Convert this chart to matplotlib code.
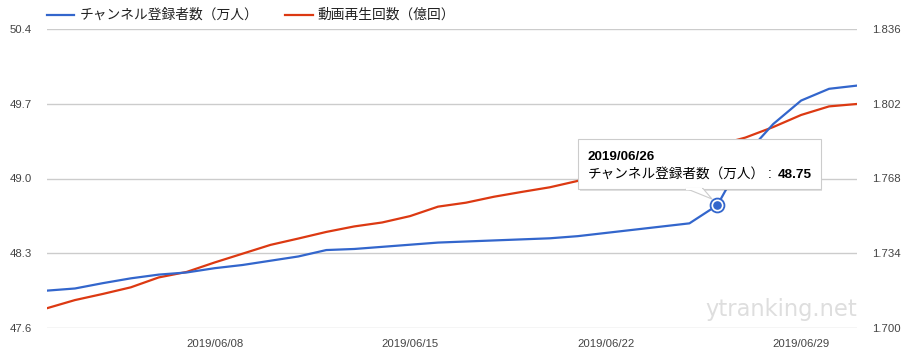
import matplotlib
matplotlib.use("Agg")
import matplotlib.pyplot as plt
import matplotlib.dates as mdates
from matplotlib.patches import Rectangle, Polygon
import pandas as pd

# data (2019/06/02 .. 2019/07/01)
dates = pd.date_range("2019-06-02", "2019-07-01", freq="D")
subscribers = [47.95, 47.97, 48.02, 48.065, 48.10, 48.12, 48.16, 48.19, 48.23, 48.27,
               48.33, 48.34, 48.36, 48.38, 48.40, 48.41, 48.42, 48.43, 48.44, 48.46,
               48.49, 48.52, 48.55, 48.58, 48.75, 49.22, 49.51, 49.73, 49.84, 49.87]
views = [1.7090, 1.7127, 1.7155, 1.7185, 1.7230, 1.7255, 1.7298, 1.7338, 1.7378, 1.7407,
         1.7437, 1.7462, 1.7480, 1.7509, 1.7552, 1.7570, 1.7597, 1.7619, 1.7640, 1.7669,
         1.7700, 1.7732, 1.7764, 1.7796, 1.7832, 1.7866, 1.7914, 1.7969, 1.8008, 1.8019]
left_ticks = [47.6, 48.3, 49.0, 49.7, 50.4]
right_ticks = [1.700, 1.734, 1.768, 1.802, 1.836]
x_ticks = pd.to_datetime(["2019-06-08", "2019-06-15", "2019-06-22", "2019-06-29"])
label_subs = "チャンネル登録者数（万人）"
label_views = "動画再生回数（億回）"
hover_idx = 24  # 2019/06/26

BLUE = "#3366cc"
RED = "#dc3912"
W, H = 904, 356
jp = ["Noto Sans CJK JP", "DejaVu Sans"]
plt.rcParams["font.family"] = ["Liberation Sans", "DejaVu Sans"]


def fx(x):
    return x / W


def fy(y):
    return 1 - y / H


fig = plt.figure(figsize=(W / 100, H / 100), dpi=100)
ax1 = fig.add_axes([fx(47), fy(328), fx(857) - fx(47), fy(29) - fy(328)])
ax2 = ax1.twinx()
# blue axis drawn above the red one, grid lives on the lower axis
ax1.set_zorder(ax2.get_zorder() + 1)
ax1.patch.set_visible(False)

ax2.plot(dates, views, color=RED, lw=1.6, solid_joinstyle="round")
ax1.plot(dates, subscribers, color=BLUE, lw=1.6, solid_joinstyle="round")
ax1.plot(dates[hover_idx], subscribers[hover_idx], "o", ms=10, mfc="white",
         mec=BLUE, mew=1.3)
ax1.plot(dates[hover_idx], subscribers[hover_idx], "o", ms=5.2, color=BLUE)

ax1.set_xlim(dates[0], dates[-1])
ax1.set_ylim(left_ticks[0], left_ticks[-1])
ax2.set_ylim(right_ticks[0], right_ticks[-1])
ax1.set_yticks(left_ticks)
ax1.set_yticklabels([f"{v:.1f}" for v in left_ticks])
ax2.set_yticks(right_ticks)
ax2.set_yticklabels([f"{v:.3f}" for v in right_ticks])
ax1.set_xticks(x_ticks)
ax1.xaxis.set_major_formatter(mdates.DateFormatter("%Y/%m/%d"))

for ax in (ax1, ax2):
    for s in ax.spines.values():
        s.set_visible(False)
    ax.tick_params(length=0, labelsize=8.2, labelcolor="#444444")
ax1.tick_params(axis="y", pad=11)
ax2.tick_params(axis="y", pad=11)
ax1.tick_params(axis="x", pad=8)
ax2.grid(True, color="#cccccc", lw=1)
ax2.set_axisbelow(True)

ax2.text(1.0, 0.04, "ytranking.net", transform=ax2.transAxes, ha="right",
         va="baseline", fontsize=16.3, color="#dedede", family="DejaVu Sans",
         zorder=0.5)

# legend
fig.add_artist(plt.Line2D([fx(47), fx(74)], [fy(15), fy(15)], color=BLUE, lw=1.6))
fig.text(fx(80), fy(15), label_subs, fontsize=9.9, family=jp, color="#222222",
         va="center")
fig.add_artist(plt.Line2D([fx(285), fx(313)], [fy(15), fy(15)], color=RED, lw=1.6))
fig.text(fx(317), fy(15), label_views, fontsize=9.9, family=jp, color="#222222",
         va="center")

# tooltip
fig.add_artist(Rectangle((fx(580), fy(191)), fx(822) - fx(580), fy(140) - fy(191),
                         transform=fig.transFigure, facecolor="#000000", alpha=0.12,
                         edgecolor="none", zorder=5))
fig.add_artist(Rectangle((fx(578), fy(189)), fx(821) - fx(578), fy(139) - fy(189),
                         transform=fig.transFigure, facecolor="white",
                         edgecolor="#cccccc", lw=0.8, zorder=6))
fig.add_artist(Polygon([(fx(686), fy(188.5)), (fx(703), fy(188.5)), (fx(712), fy(199))],
                       closed=True, transform=fig.transFigure, facecolor="white",
                       edgecolor="#cccccc", lw=0.8, zorder=6))
fig.add_artist(Rectangle((fx(686.5), fy(189.5)), fx(702.5) - fx(686.5), 2 / H,
                         transform=fig.transFigure, facecolor="white",
                         edgecolor="none", zorder=6.5))
fig.text(fx(588), fy(160), dates[hover_idx].strftime("%Y/%m/%d"), fontsize=9.7,
         weight="bold", color="black", va="baseline", zorder=7)
fig.text(fx(588), fy(178), label_subs, fontsize=9.8, family=jp,
         color="black", va="baseline", zorder=7)
fig.text(fx(768), fy(178), ":", fontsize=9.8, color="black", va="baseline", zorder=7)
fig.text(fx(778), fy(178), f"{subscribers[hover_idx]:.2f}", fontsize=9.7,
         weight="bold", color="black", va="baseline", zorder=7)

fig.savefig("out.png", dpi=100)
